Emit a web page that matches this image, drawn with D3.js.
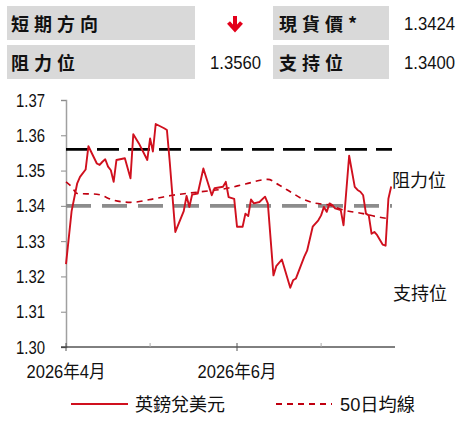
<!DOCTYPE html>
<html>
<head>
<meta charset="utf-8">
<script src="https://cdn.jsdelivr.net/npm/d3@7"></script>
<style>
  html, body { margin: 0; padding: 0; background: #fff; }
  svg { display: block; }
  .num { font-family: "Liberation Sans", Arial, sans-serif; }
  .cjk { font-family: "Noto Sans CJK TC", "Noto Sans CJK SC", sans-serif; }
  .mix { font-family: "Liberation Sans", Arial, "Noto Sans CJK TC", sans-serif; }
</style>
</head>
<body>
<div id="chart"></div>
<script>
// header table
const headerRows = [
  ["短期方向", null, "現貨價*", "1.3424"],
  ["阻力位", "1.3560", "支持位", "1.3400"]
];

// y axis ticks and x axis month ticks
const yTicks = [1.30, 1.31, 1.32, 1.33, 1.34, 1.35, 1.36, 1.37];
const monthTicks = ["2026-04-01", "2026-05-01", "2026-06-01", "2026-07-01"];
const monthLabels = {"2026-04-01": "2026年4月", "2026-06-01": "2026年6月"};

const resistance = 1.3560;
const support = 1.3400;

// GBP/USD spot
const spotDates = ["2026-04-01","2026-04-03","2026-04-05","2026-04-06","2026-04-08","2026-04-09",
  "2026-04-12","2026-04-13","2026-04-14","2026-04-15","2026-04-16","2026-04-17","2026-04-18",
  "2026-04-19","2026-04-22","2026-04-24","2026-04-25","2026-04-27","2026-04-30","2026-05-01",
  "2026-05-02","2026-05-03","2026-05-06","2026-05-07","2026-05-08","2026-05-10","2026-05-13",
  "2026-05-14","2026-05-15","2026-05-16","2026-05-18","2026-05-20","2026-05-23","2026-05-24",
  "2026-05-27","2026-05-28","2026-05-29","2026-05-31","2026-06-01","2026-06-03","2026-06-04",
  "2026-06-05","2026-06-06","2026-06-07","2026-06-09","2026-06-11","2026-06-12","2026-06-14",
  "2026-06-15","2026-06-17","2026-06-20","2026-06-21","2026-06-22","2026-06-25","2026-06-26",
  "2026-06-28","2026-06-30","2026-07-01","2026-07-02","2026-07-03","2026-07-04","2026-07-05",
  "2026-07-06","2026-07-08","2026-07-09","2026-07-11","2026-07-13","2026-07-14","2026-07-15",
  "2026-07-16","2026-07-17","2026-07-18","2026-07-19","2026-07-20","2026-07-21","2026-07-23",
  "2026-07-24","2026-07-25","2026-07-26"];
const spotValues = [1.3235,1.3385,1.3464,1.3482,1.3503,1.3569,
  1.3520,1.3516,1.3525,1.3532,1.3511,1.3501,1.3468,
  1.3530,1.3535,1.3478,1.3603,1.3577,1.3530,1.3591,
  1.3554,1.3632,1.3620,1.3615,1.3525,1.3326,1.3385,
  1.3428,1.3397,1.3432,1.3435,1.3506,1.3430,1.3450,
  1.3454,1.3468,1.3425,1.3420,1.3341,1.3341,1.3378,
  1.3371,1.3418,1.3407,1.3411,1.3426,1.3407,1.3203,
  1.3229,1.3248,1.3168,1.3189,1.3194,1.3256,1.3273,
  1.3341,1.3359,1.3373,1.3397,1.3383,1.3407,1.3402,
  1.3393,1.3388,1.3345,1.3542,1.3454,1.3445,1.3440,
  1.3430,1.3378,1.3373,1.3321,1.3326,1.3317,1.3290,
  1.3287,1.3420,1.3455];

// 50-day moving average
const maDates = ["2026-04-01","2026-04-03","2026-04-05","2026-04-12","2026-04-18","2026-04-24",
  "2026-05-03","2026-05-09","2026-05-19","2026-05-28","2026-06-04","2026-06-12","2026-06-16",
  "2026-06-20","2026-06-24","2026-06-28","2026-07-04","2026-07-09","2026-07-16","2026-07-21",
  "2026-07-25"];
const maValues = [1.3468,1.3454,1.3435,1.3433,1.3416,1.3410,
  1.3421,1.3430,1.3440,1.3449,1.3462,1.3475,1.3459,
  1.3440,1.3421,1.3409,1.3402,1.3388,1.3378,1.3369,
  1.3364];

const legendNames = ["英鎊兌美元", "50日均線"];

const W = 462, H = 423;
const red = "#d0101e";
const parse = d3.timeParse("%Y-%m-%d");

const svg = d3.select("#chart").append("svg")
  .attr("width", W).attr("height", H);

// ---- header boxes ----
const colX = [7, 195, 273, 389];
const rowY = [6, 45];
headerRows.forEach(function (row, i) {
  const y0 = rowY[i];
  svg.append("rect").attr("x", colX[0]).attr("y", y0).attr("width", colX[1] - colX[0]).attr("height", 34).attr("fill", "#d9d9d9");
  svg.append("rect").attr("x", colX[2]).attr("y", y0).attr("width", colX[3] - colX[2]).attr("height", 34).attr("fill", "#d9d9d9");
  svg.append("text").attr("class", "cjk").attr("x", 11).attr("y", y0 + 25)
    .attr("font-size", 18).attr("font-weight", "bold").attr("letter-spacing", 5).attr("fill", "#111")
    .text(row[0]);
  svg.append("text").attr("class", "cjk").attr("x", 279).attr("y", y0 + 25)
    .attr("font-size", 18).attr("font-weight", "bold").attr("letter-spacing", 5).attr("fill", "#111")
    .text(row[2]);
  if (row[1]) {
    svg.append("text").attr("class", "num").attr("x", 210).attr("y", y0 + 24)
      .attr("font-size", 19).attr("fill", "#111")
      .attr("textLength", 51).attr("lengthAdjust", "spacingAndGlyphs")
      .text(row[1]);
  }
  svg.append("text").attr("class", "num").attr("x", 404).attr("y", y0 + 24)
    .attr("font-size", 19).attr("fill", "#111")
    .attr("textLength", 51).attr("lengthAdjust", "spacingAndGlyphs")
    .text(row[3]);
});

// down arrow (short-term direction)
svg.append("path")
  .attr("d", "M235,16 L235,29 M228.5,22.5 L235,29.5 L241.5,22.5")
  .attr("fill", "none").attr("stroke", "#e3001b").attr("stroke-width", 4)
  .attr("stroke-linecap", "butt").attr("stroke-linejoin", "miter");

// ---- chart ----
const x = d3.scaleTime()
  .domain([parse("2026-04-01"), parse("2026-07-27")])
  .range([66, 394]);
const y = d3.scaleLinear()
  .domain([1.30, 1.37])
  .range([347, 100]);

// y axis
const yAxis = svg.append("g")
  .attr("transform", "translate(66,0)")
  .call(d3.axisLeft(y).tickValues(yTicks).tickSize(5).tickPadding(16).tickFormat(d3.format(".2f")));
yAxis.select(".domain").attr("stroke", "#a0a0a0").attr("stroke-width", 1.5);
yAxis.selectAll(".tick line").attr("stroke", "#8a8a8a");
yAxis.selectAll(".tick text")
  .attr("class", "num").attr("font-size", 19).attr("fill", "#111")
  .attr("textLength", 29).attr("lengthAdjust", "spacingAndGlyphs");

// x axis line
svg.append("line")
  .attr("x1", 61).attr("x2", 395)
  .attr("y1", y(1.30)).attr("y2", y(1.30))
  .attr("stroke", "#000").attr("stroke-width", 1);

const xt = svg.append("g");
monthTicks.forEach(function (m) {
  const xm = x(parse(m));
  const labeled = monthLabels[m] !== undefined;
  xt.append("line")
    .attr("x1", xm).attr("x2", xm)
    .attr("y1", y(1.30) - 4).attr("y2", y(1.30) + (labeled ? 4 : 0))
    .attr("stroke", labeled ? "#555" : "#aaa").attr("stroke-width", 1);
  if (labeled) {
    xt.append("text").attr("class", "mix")
      .attr("x", xm).attr("y", 378).attr("text-anchor", "middle")
      .attr("font-size", 18).attr("fill", "#111")
      .attr("textLength", 79).attr("lengthAdjust", "spacingAndGlyphs")
      .text(monthLabels[m]);
  }
});

// resistance / support lines
svg.append("line")
  .attr("x1", x.range()[0]).attr("x2", 392)
  .attr("y1", y(resistance)).attr("y2", y(resistance))
  .attr("stroke", "#000").attr("stroke-width", 2.6).attr("stroke-dasharray", "22,9");
svg.append("line")
  .attr("x1", x.range()[0]).attr("x2", 392)
  .attr("y1", y(support)).attr("y2", y(support))
  .attr("stroke", "#8c8c8c").attr("stroke-width", 3.6).attr("stroke-dasharray", "25,11");

// 50-day MA
const maData = maDates.map(function (d, i) { return {date: parse(d), value: maValues[i]}; });
svg.append("path")
  .datum(maData)
  .attr("fill", "none")
  .attr("stroke", "#c00010").attr("stroke-width", 1.6).attr("stroke-dasharray", "6,5")
  .attr("d", d3.line().curve(d3.curveMonotoneX)
    .x(function (d) { return x(d.date); })
    .y(function (d) { return y(d.value); }));

// spot line
const spotData = spotDates.map(function (d, i) { return {date: parse(d), value: spotValues[i]}; });
svg.append("path")
  .datum(spotData)
  .attr("fill", "none")
  .attr("stroke", red).attr("stroke-width", 1.9).attr("stroke-linejoin", "round")
  .attr("d", d3.line()
    .x(function (d) { return x(d.date); })
    .y(function (d) { return y(d.value); }));

// level labels
svg.append("text").attr("class", "cjk").attr("x", 392).attr("y", 187)
  .attr("font-size", 18).attr("fill", "#111").text("阻力位");
svg.append("text").attr("class", "cjk").attr("x", 393).attr("y", 300)
  .attr("font-size", 18).attr("fill", "#111").text("支持位");

// legend
const leg = svg.append("g");
leg.append("line").attr("x1", 71).attr("x2", 128).attr("y1", 404).attr("y2", 404)
  .attr("stroke", red).attr("stroke-width", 2);
leg.append("text").attr("class", "cjk").attr("x", 135).attr("y", 411)
  .attr("font-size", 18).attr("fill", "#111").text(legendNames[0]);
leg.append("line").attr("x1", 276).attr("x2", 332).attr("y1", 404).attr("y2", 404)
  .attr("stroke", "#c00010").attr("stroke-width", 2).attr("stroke-dasharray", "6,5");
leg.append("text").attr("class", "mix").attr("x", 340).attr("y", 411)
  .attr("font-size", 18).attr("fill", "#111")
  .attr("textLength", 75).attr("lengthAdjust", "spacingAndGlyphs")
  .text(legendNames[1]);
</script>
</body>
</html>
